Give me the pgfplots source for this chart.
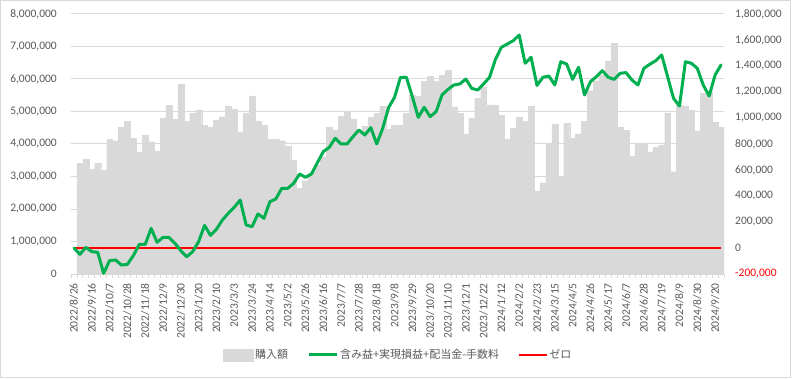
\documentclass[border=0pt]{standalone}
\usepackage{pgfplots}
\pgfplotsset{compat=1.18}
\usepackage{fontspec}
\setmainfont{Carlito}
\newfontfamily\jp{Noto Sans CJK JP}
\definecolor{barc}{HTML}{D9D9D9}
\definecolor{gridc}{HTML}{D9D9D9}
\definecolor{txtc}{HTML}{595959}
\definecolor{greenc}{HTML}{00B050}
\definecolor{redc}{HTML}{FF0000}
\definecolor{borderc}{HTML}{D9D9D9}
\begin{document}
\begin{tikzpicture}
\path (-71bp,-106bp) rectangle (724bp,274bp);
\draw[borderc, line width=1bp] (-70.5bp,273.5bp) rectangle (719.5bp,-103.5bp);
\begin{axis}[
  at={(0,0)}, anchor=south west, scale only axis,
  width=653bp, height=260bp,
  xmin=-0.5, xmax=109.5, ymin=0, ymax=8,
  axis x line*=bottom, axis y line*=left,
  x axis line style={draw=gridc, line width=1bp, -},
  y axis line style={draw=none},
  xtick={0,3,...,108},
  xticklabels={2022/8/26,2022/9/16,2022/10/7,2022/10/28,2022/11/18,2022/12/9,2022/12/30,2023/1/20,2023/2/10,2023/3/3,2023/3/24,2023/4/14,2023/5/2,2023/5/26,2023/6/16,2023/7/7,2023/7/28,2023/8/18,2023/9/8,2023/9/29,2023/10/20,2023/11/10,2023/12/1,2023/12/22,2024/1/12,2024/2/2,2024/2/23,2024/3/15,2024/4/5,2024/4/26,2024/5/17,2024/6/7,2024/6/28,2024/7/19,2024/8/9,2024/8/30,2024/9/20},
  minor xtick={-0.5,0.5,...,109.5},
  major tick length=0pt, minor tick length=4bp,
  tick align=outside,
  tick style={draw=gridc, line width=0.75bp},
  ytick={0,1,...,8},
  yticklabels={0,{1,000,000},{2,000,000},{3,000,000},{4,000,000},{5,000,000},{6,000,000},{7,000,000},{8,000,000}},
  ymajorgrids, grid style={draw=gridc, line width=1bp},
  tick label style={font=\fontsize{11.5bp}{12bp}\selectfont, text=txtc},
  xticklabel style={rotate=90, anchor=east, inner sep=0pt},
  xticklabel shift=9bp,
  yticklabel style={anchor=east, inner sep=0pt},
  yticklabel shift=14bp,
]
\addplot[ybar, bar width=1, bar shift=0pt, fill=barc, draw=barc, line width=0.2bp] coordinates {
(1,3.41) (2,3.54) (3,3.23) (4,3.41) (5,3.20) (6,4.14) (7,4.10) (8,4.53) (9,4.69)
(10,4.17) (11,3.76) (12,4.28) (13,4.07) (14,3.79) (15,4.79) (16,5.19) (17,4.76) (18,5.84) (19,4.69)
(20,4.94) (21,5.05) (22,4.58) (23,4.53) (24,4.74) (25,4.84) (26,5.17) (27,5.08) (28,4.37) (29,4.96)
(30,5.48) (31,4.69) (32,4.58) (33,4.14) (34,4.14) (35,4.10) (36,3.92) (37,3.49) (38,2.64) (39,2.87)
(40,3.10) (41,3.35) (42,3.61) (43,4.53) (44,4.43) (45,4.86) (46,5.01) (47,4.77) (48,4.40) (49,4.55)
(50,4.82) (51,4.95) (52,5.17) (53,4.45) (54,4.58) (55,4.58) (56,4.94) (57,5.51) (58,5.46) (59,5.92)
(60,6.09) (61,5.92) (62,6.12) (63,6.26) (64,5.15) (65,4.94) (66,4.31) (67,4.79) (68,5.41) (69,5.74)
(70,5.20) (71,5.20) (72,4.89) (73,4.14) (74,4.48) (75,4.82) (76,4.69) (77,5.17) (78,2.56) (79,2.81)
(80,4.02) (81,4.62) (82,2.99) (83,4.64) (84,4.17) (85,4.31) (86,4.69) (87,5.64) (88,5.95) (89,6.12)
(90,6.56) (91,7.10) (92,4.53) (93,4.43) (94,3.63) (95,4.00) (96,4.00) (97,3.76) (98,3.90) (99,3.97)
(100,4.96) (101,3.15) (102,5.20) (103,5.17) (104,5.03) (105,4.41) (106,5.56) (107,5.61) (108,4.66) (109,4.53)
};
\end{axis}
\begin{axis}[
  at={(0,0)}, anchor=south west, scale only axis,
  width=653bp, height=260bp,
  xmin=-0.5, xmax=109.5, ymin=-200, ymax=1800,
  axis y line*=right, axis x line=none,
  y axis line style={draw=none},
  ytick={-200,0,200,...,1800},
  yticklabels={\textcolor{redc}{-200,000},0,{200,000},{400,000},{600,000},{800,000},{1,000,000},{1,200,000},{1,400,000},{1,600,000},{1,800,000}},
  ytick style={draw=none},
  tick label style={font=\fontsize{11.5bp}{12bp}\selectfont, text=txtc},
  yticklabel style={anchor=west, inner sep=0pt},
  yticklabel shift=11bp,
  legend style={at={(0.5,-0.3115)}, anchor=center, draw=none, fill=none,
    legend columns=-1, font=\jp\fontsize{11bp}{13bp}\selectfont, text=txtc,
    nodes={inner sep=1bp},
    /tikz/every odd column/.append style={column sep=1bp},
    /tikz/every even column/.append style={column sep=18bp}},
]
\addlegendimage{legend image code/.code={\fill[barc] (0bp,-6bp) rectangle (30bp,6bp);}}
\addlegendentry{購入額}
\addlegendimage{legend image code/.code={\draw[greenc, line width=3bp] (0bp,0bp) -- (28bp,0bp);}}
\addlegendentry{含み益+実現損益+配当金-手数料}
\addlegendimage{legend image code/.code={\draw[redc, line width=1.2bp] (0bp,0bp) -- (28bp,0bp);}}
\addlegendentry{ゼロ}
\addplot[redc, line width=1.2bp, no marks, forget plot] coordinates {(0,0) (109,0)};
\addplot[greenc, line width=3bp, line join=round, line cap=round, no marks, forget plot] coordinates {
(0,0) (1,-49) (2,5) (3,-28) (4,-33) (5,-195) (6,-97) (7,-92) (8,-131) (9,-126)
(10,-59) (11,28) (12,28) (13,151) (14,44) (15,82) (16,82) (17,36) (18,-21) (19,-67)
(20,-28) (21,49) (22,174) (23,97) (24,144) (25,215) (26,267) (27,313) (28,369) (29,177)
(30,164) (31,262) (32,228) (33,356) (34,377) (35,459) (36,459) (37,497) (38,569) (39,544)
(40,569) (41,656) (42,741) (43,774) (44,844) (45,800) (46,800) (47,856) (48,908) (49,869)
(50,926) (51,800) (52,920) (53,1080) (54,1159) (55,1313) (56,1313) (57,1164) (58,1005) (59,1082)
(60,1010) (61,1049) (62,1177) (63,1220) (64,1254) (65,1262) (66,1300) (67,1228) (68,1215) (69,1262)
(70,1313) (71,1451) (72,1544) (73,1569) (74,1595) (75,1638) (76,1421) (77,1467) (78,1251) (79,1313)
(80,1323) (81,1254) (82,1433) (83,1415) (84,1297) (85,1390) (86,1177) (87,1279) (88,1318) (89,1364)
(90,1313) (91,1297) (92,1344) (93,1349) (94,1292) (95,1254) (96,1382) (97,1413) (98,1441) (99,1485)
(100,1318) (101,1151) (102,1092) (103,1433) (104,1421) (105,1382) (106,1254) (107,1169) (108,1331) (109,1408)
};
\end{axis}
\end{tikzpicture}
\end{document}
